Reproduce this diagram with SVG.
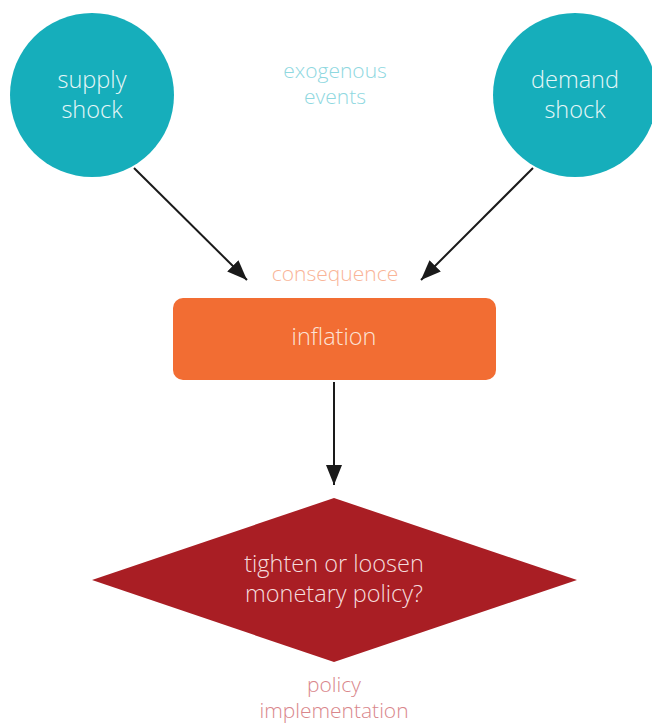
<svg xmlns="http://www.w3.org/2000/svg" width="652" height="723" viewBox="0 0 652 723">
<defs>
<style>
text{font-family:"Open Sans","Liberation Sans",sans-serif;font-weight:300;text-anchor:middle}
.shock{fill:#16AEBB}
.wt{fill:#E6F7F8;font-size:23.5px}
.lbl{font-size:21px}
.conn{stroke:#1a1a1a;stroke-width:2;fill:none;marker-end:url(#ah)}
</style>
<marker id="ah" viewBox="0 0 20 16" refX="20" refY="8" markerWidth="20" markerHeight="16" markerUnits="userSpaceOnUse" orient="auto">
<path d="M0,0 L20,8 L0,16 Z" fill="#1a1a1a"/>
</marker>
</defs>
<rect width="652" height="723" fill="#fff"/>
<g id="connectors">
<line class="conn" x1="134" y1="168" x2="247" y2="280"/>
<line class="conn" x1="533" y1="168" x2="421" y2="280"/>
<line class="conn" x1="334" y1="382" x2="334" y2="485"/>
</g>
<g id="supply">
<circle class="shock" cx="92" cy="95" r="82"/>
<text class="wt" x="92" y="88">supply</text>
<text class="wt" x="92" y="118">shock</text>
</g>
<g id="demand">
<circle class="shock" cx="575" cy="95" r="82"/>
<text class="wt" x="575" y="88">demand</text>
<text class="wt" x="575" y="118">shock</text>
</g>
<g id="exogenous">
<text class="lbl" x="335" y="78" fill="#8FD8DF">exogenous</text>
<text class="lbl" x="335" y="104" fill="#8FD8DF">events</text>
</g>
<g id="consequence">
<text class="lbl" x="335" y="281" fill="#F9B497">consequence</text>
</g>
<g id="inflation">
<rect x="173" y="298" width="323" height="82" rx="10" fill="#F26D33"/>
<text x="334" y="345" fill="#FCE3D6" font-size="23.5">inflation</text>
</g>
<g id="decision">
<polygon points="334,498 577,580 334,662 92,580" fill="#A91E24"/>
<text x="334" y="572" fill="#F5DCDD" font-size="23.5">tighten or loosen</text>
<text x="334" y="602" fill="#F5DCDD" font-size="23.5">monetary policy?</text>
</g>
<g id="policy">
<text class="lbl" x="334" y="692" fill="#D9868B">policy</text>
<text class="lbl" x="334" y="718" fill="#D9868B">implementation</text>
</g>
</svg>
